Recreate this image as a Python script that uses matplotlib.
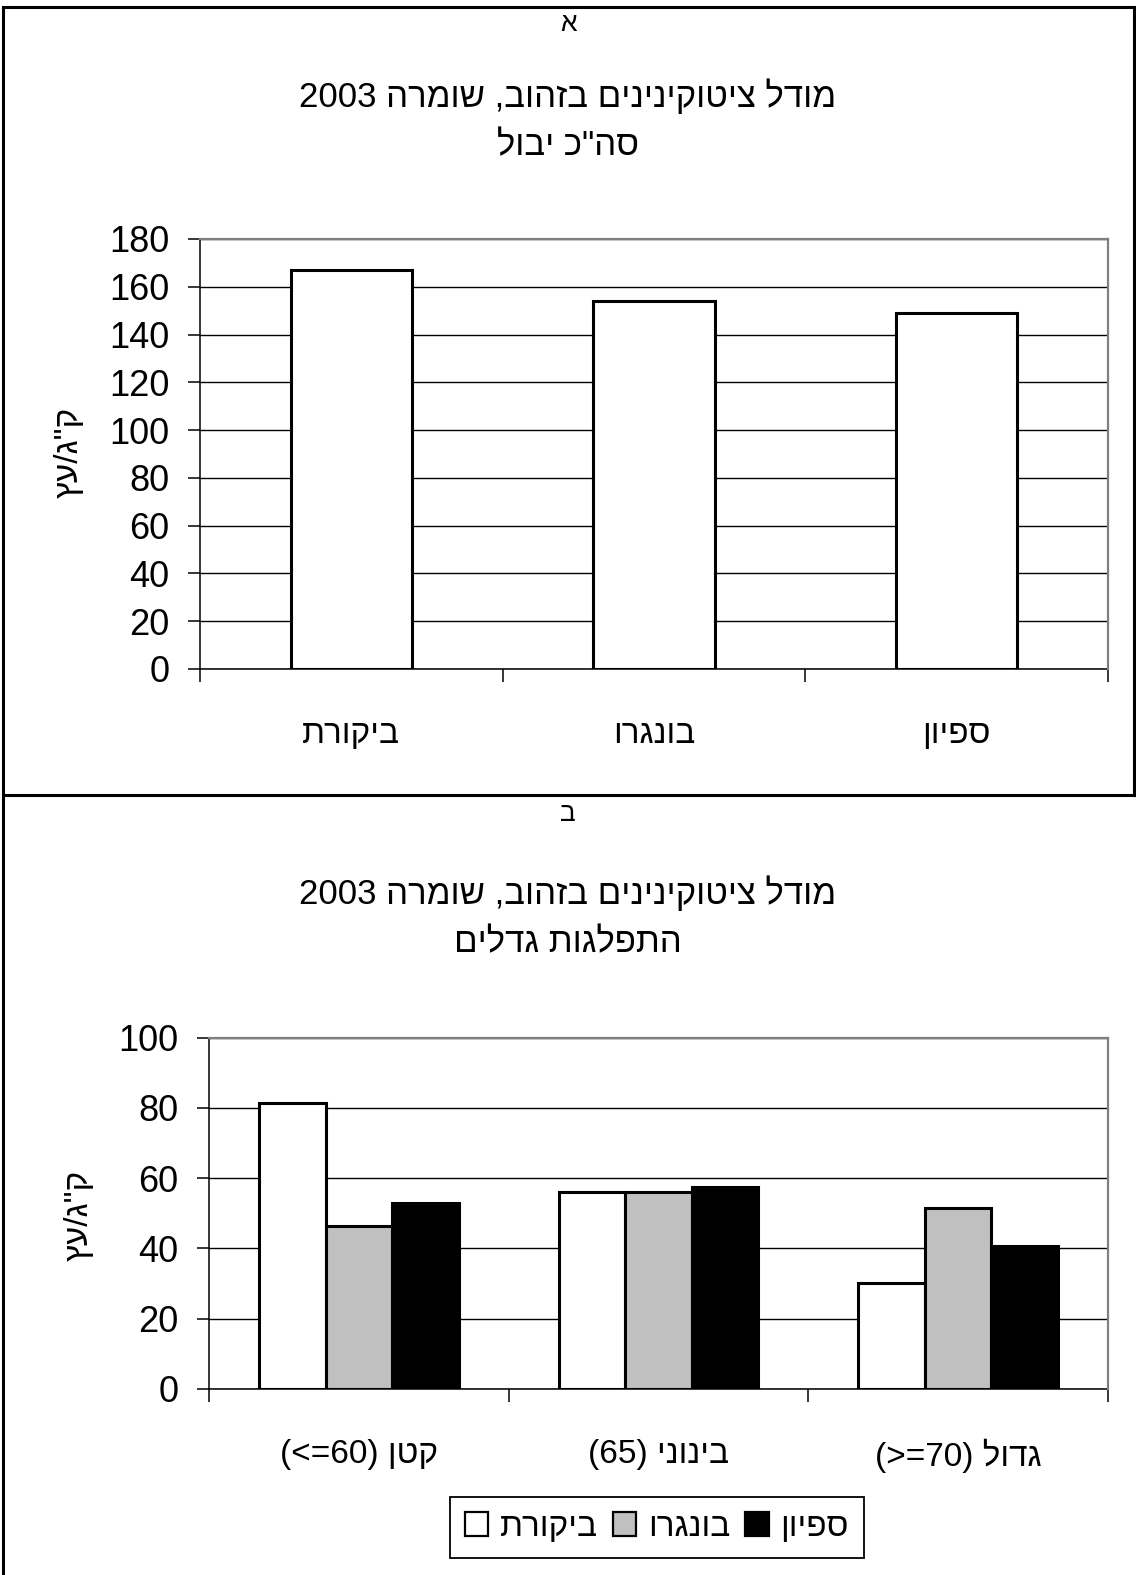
import re
import numpy as np
import matplotlib
matplotlib.use('Agg')
from matplotlib import pyplot as plt
from matplotlib.patches import Patch
from matplotlib.lines import Line2D

plt.rcParams['font.family'] = ['Liberation Sans', 'DejaVu Sans']

W, H = 1136, 1575

# data
title_top = 'מודל ציטוקינינים בזהוב, שומרה 2003'
sub_a = 'סה"כ יבול'
sub_b = 'התפלגות גדלים'
ylabel = 'ק"ג/עץ'
treatments = ['ביקורת', 'בונגרו', 'ספיון']
total_yield = [167, 154, 149]
sizes = ['קטן (<=60)', 'בינוני (65)', 'גדול (>=70)']
size_control = [81.3, 56.0, 30.3]
size_bongaro = [46.5, 56.0, 51.5]
size_spion = [52.9, 57.4, 40.6]
ticks_a = [0, 20, 40, 60, 80, 100, 120, 140, 160, 180]
ticks_b = [0, 20, 40, 60, 80, 100]
colors = ['white', '#C0C0C0', 'black']


def heb(s):
    # logical -> visual order (matplotlib has no bidi)
    r = s[::-1]
    return re.sub(r'[0-9A-Za-z<>=.()]+', lambda m: m.group(0)[::-1], r)


def fx(x):
    return x / W


def fy(y):
    return 1 - y / H


def setup(ax, ticks, n):
    ax.set_xlim(0, n)
    ax.set_ylim(ticks[0], ticks[-1])
    ax.set_yticks(ticks)
    ax.set_yticklabels([str(t) for t in ticks], fontsize=26)
    ax.tick_params(axis='y', direction='out', length=9, width=1.1, pad=13)
    ax.set_xticks(np.arange(n + 1))
    ax.set_xticklabels([])
    ax.tick_params(axis='x', which='major', direction='out', length=9.5, width=1.1)
    ax.set_xticks(np.arange(n) + 0.5, minor=True)
    ax.tick_params(axis='x', which='minor', length=0, pad=36)
    ax.yaxis.grid(True, color='black', lw=1.0)
    ax.set_axisbelow(True)
    for s in ['top', 'right']:
        ax.spines[s].set_color('#808080')
        ax.spines[s].set_linewidth(1.6)
        ax.spines[s].set_zorder(5)
    for s in ['left', 'bottom']:
        ax.spines[s].set_color('black')
        ax.spines[s].set_linewidth(1.1)


fig = plt.figure(figsize=(W / 100, H / 100), dpi=100)

# panel frame
for (x0, y0, x1, y1) in [(3, 7, 1134, 7), (3, 7, 3, H), (1134, 7, 1134, 795), (3, 795, 1134, 795)]:
    fig.add_artist(Line2D([fx(x0), fx(x1)], [fy(y0), fy(y1)], color='black', lw=2.2))

fig.text(fx(568), fy(24), 'א', ha='center', va='center', fontsize=19)
fig.text(fx(568), fy(814), 'ב', ha='center', va='center', fontsize=19)

# panel A
axa = fig.add_axes([fx(200), fy(669), (1108 - 200) / W, (669 - 239) / H])
setup(axa, ticks_a, len(treatments))
gap = 1.5
wa = 1 / (1 + gap)
axa.bar(np.arange(len(treatments)) + 0.5, total_yield, width=wa, color='white',
        edgecolor='black', linewidth=2.2, zorder=3)
axa.set_xticklabels([heb(t) for t in treatments], minor=True, fontsize=24)
fig.text(fx(568), fy(96), heb(title_top), ha='center', va='center', fontsize=25)
fig.text(fx(568), fy(146), heb(sub_a), ha='center', va='center', fontsize=25)
fig.text(fx(69), fy(452), heb(ylabel), ha='center', va='center', rotation=90, fontsize=24)

# panel B
axb = fig.add_axes([fx(209), fy(1389), (1108 - 209) / W, (1389 - 1037.7) / H])
setup(axb, ticks_b, len(sizes))
wb = 1 / (3 + gap)
series = [size_control, size_bongaro, size_spion]
x = np.arange(len(sizes)) + 0.5
handles = []
for i, (vals, c) in enumerate(zip(series, colors)):
    axb.bar(x + (i - 1) * wb, vals, width=wb, color=c, edgecolor='black',
            linewidth=2.2, zorder=3)
    handles.append(Patch(facecolor=c, edgecolor='black', linewidth=1.6,
                         label=heb(treatments[i])))
axb.set_xticklabels([heb(s) for s in sizes], minor=True, fontsize=24)
fig.text(fx(568), fy(893), heb(title_top), ha='center', va='center', fontsize=25)
fig.text(fx(568), fy(943), heb(sub_b), ha='center', va='center', fontsize=25)
fig.text(fx(79), fy(1215), heb(ylabel), ha='center', va='center', rotation=90, fontsize=24)

leg = fig.legend(handles=handles, loc='center', bbox_to_anchor=(fx(657), fy(1527)),
                 ncol=3, fontsize=24, handlelength=0.7, handleheight=0.7,
                 handletextpad=0.35, columnspacing=0.45, fancybox=False,
                 edgecolor='black', framealpha=1, borderpad=0.45)
leg.get_frame().set_linewidth(1.3)

fig.savefig('out.png', dpi=100, facecolor='white')
